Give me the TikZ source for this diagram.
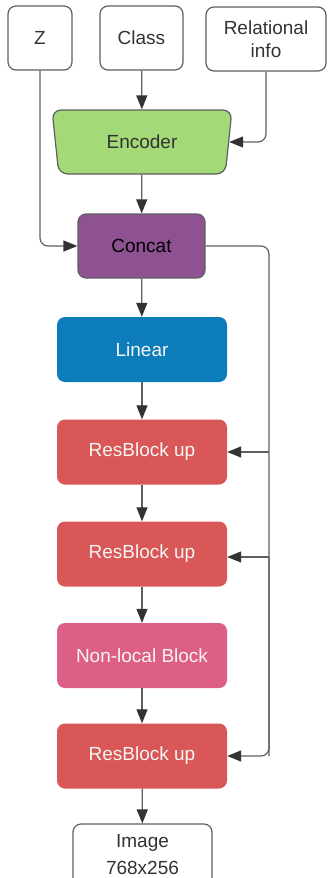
\documentclass[tikz,border=0pt]{standalone}
\usepackage{fontspec}
\setmainfont{Liberation Sans}
\usetikzlibrary{arrows.meta,shapes.geometric}

\definecolor{linegray}{HTML}{5F5F5F}
\definecolor{tipgray}{HTML}{333333}
\definecolor{txtdark}{HTML}{333333}
\definecolor{encgreen}{HTML}{A3D977}
\definecolor{catpurple}{HTML}{8E5191}
\definecolor{linblue}{HTML}{0C7CBA}
\definecolor{resred}{HTML}{D95757}
\definecolor{nlpink}{HTML}{DE5F85}

\tikzset{
  lbl/.style={font=\fontsize{19}{22.5}\selectfont, align=center, inner sep=0pt},
  inbox/.style={lbl, draw=linegray, line width=1.2pt, fill=white, text=txtdark,
    rounded corners=8pt, minimum height=64pt},
  block/.style={lbl, rounded corners=8pt, minimum width=170pt, minimum height=65pt,
    text=white!96!black},
  arr/.style={draw=linegray, line width=1.2pt,
    -{Triangle[length=14pt,width=11pt,color=tipgray]}},
  bus/.style={draw=linegray, line width=1.2pt, rounded corners=8pt}
}

\begin{document}
\begin{tikzpicture}[x=1pt,y=-1pt]
  \useasboundingbox (0,0) rectangle (327,878);
  \clip (0,0) rectangle (327,878);

  % inputs
  \node[inbox, minimum width=64pt]  (z)   at (40,38)    {Z};
  \node[inbox, minimum width=83pt]  (cls) at (141.5,38) {Class};
  \node[inbox, minimum width=120pt] (rel) at (266,39)   {Relational\\info};

  % encoder (wider at the top)
  \node[lbl, trapezium, shape border rotate=180, trapezium angle=78.5,
        trapezium stretches=true, minimum width=181pt, minimum height=64pt,
        rounded corners=9pt, draw=linegray, line width=1.2pt, fill=encgreen,
        text=txtdark] (enc) at (142,142) {Encoder};

  % generator trunk
  \node[lbl, draw=linegray, line width=1.2pt, fill=catpurple, text=black,
        rounded corners=8pt, minimum width=127pt, minimum height=64pt]
        (cat) at (141.5,246) {Concat};
  \node[block, fill=linblue] (lin) at (142,349.5) {Linear};
  \node[block, fill=resred]  (rb1) at (142,452)   {ResBlock up};
  \node[block, fill=resred]  (rb2) at (142,554)   {ResBlock up};
  \node[block, fill=nlpink]  (nl)  at (142,655.5) {Non-local Block};
  \node[block, fill=resred]  (rb3) at (142,756)   {ResBlock up};
  \node[inbox, minimum width=139pt, minimum height=64pt,
        font=\fontsize{19}{27}\selectfont] (img) at (142.5,856) {};
  \node[lbl, text=txtdark] (imgtxt) at (142.5,854.5) {Image\\[4.5pt]768x256};

  % skip bus from Concat to the ResBlocks
  \coordinate (bustop) at (269,246);
  \coordinate (tap1) at (269,452);
  \coordinate (tap2) at (269,557);
  \coordinate (tap3) at (269,756);

  % connectors
  \draw[arr] (cls) -- (enc);
  \draw[arr, rounded corners=8pt] (rel.south) |- (enc.east);
  \draw[arr] (enc) -- (cat);
  \draw[arr, rounded corners=8pt] (z.south) |- (cat.west);
  \draw[arr] (cat) -- (lin);
  \draw[arr] (lin) -- (rb1);
  \draw[arr] (rb1) -- (rb2);
  \draw[arr] (rb2) -- (nl);
  \draw[arr] (nl) -- (rb3);
  \draw[arr] (rb3) -- (img);

  \draw[bus] (cat.east) -- (bustop) -- (tap3);
  \draw[arr, rounded corners=8pt] (tap2) |- (rb3.east);
  \draw[arr] (tap1) -- (rb1.east);
  \draw[arr] (tap2) -- (rb2.east |- tap2);
\end{tikzpicture}
\end{document}
